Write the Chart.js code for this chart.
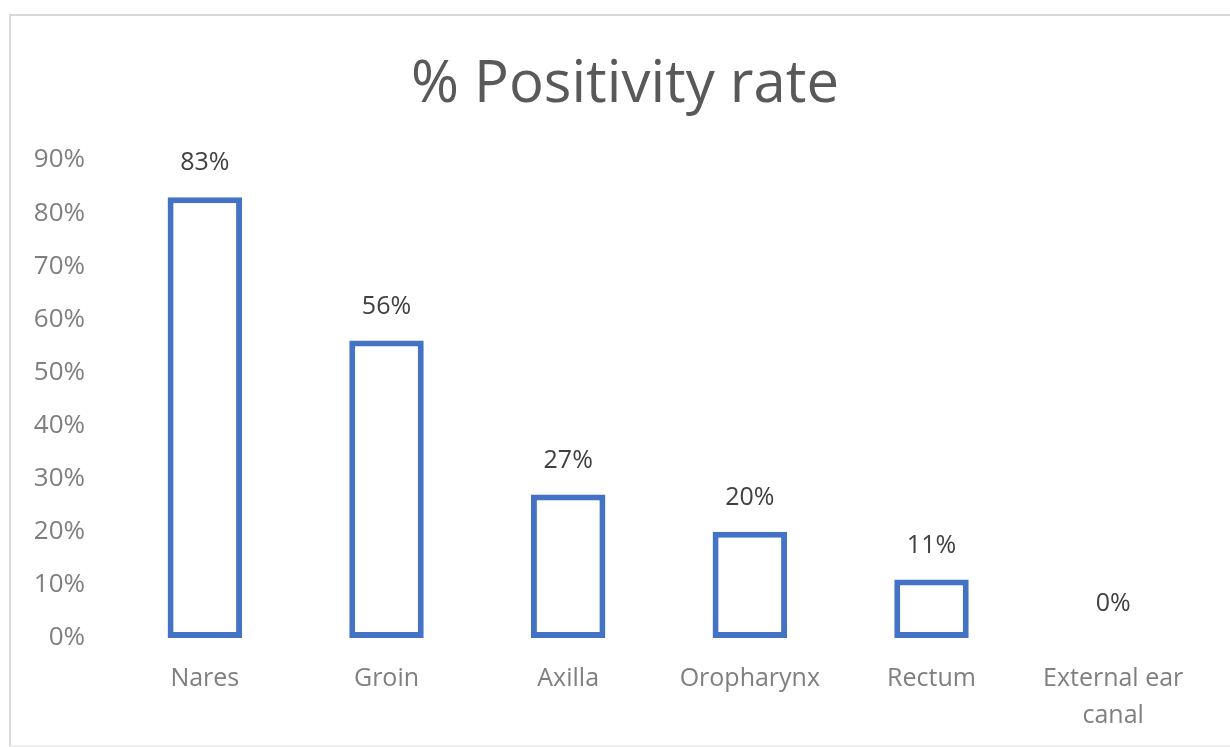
<!DOCTYPE html>
<html>
<head>
<meta charset="utf-8">
<script src="https://cdn.jsdelivr.net/npm/chart.js@4.4.1/dist/chart.umd.min.js"></script>
<style>
  body { margin: 0; background: #fff; }
  #wrap { position: relative; width: 1230px; height: 747px; overflow: hidden; }
  #frame { position: absolute; left: 9px; top: 14px; width: 1240px; height: 729px;
           border-left: 2px solid #d9d9d9; border-top: 2px solid #d9d9d9; border-bottom: 2px solid #f0f0f0; }
  #chart { position: absolute; left: 0; top: 0; }
</style>
</head>
<body>
<div id="wrap">
  <div id="frame"></div>
  <canvas id="chart" width="1230" height="747"></canvas>
</div>
<script>
// values
const chartTitle = '% Positivity rate';
const sites = ['Nares', 'Groin', 'Axilla', 'Oropharynx', 'Rectum', ['External ear', 'canal']];
const positivity = [83, 56, 27, 20, 11, 0];
const yTicks = [0, 10, 20, 30, 40, 50, 60, 70, 80, 90];

const FONT = '"Open Sans", "Noto Sans", sans-serif';

// title centred on the whole frame, not the plot area
const frameTitle = {
  id: 'frameTitle',
  afterDraw(chart) {
    const ctx = chart.ctx;
    ctx.save();
    ctx.font = '58px ' + FONT;
    ctx.fillStyle = '#595959';
    ctx.textAlign = 'center';
    ctx.textBaseline = 'alphabetic';
    ctx.fillText(chartTitle, 625, 102);
    ctx.restore();
  }
};

// simple value labels above each bar
const barLabels = {
  id: 'barLabels',
  afterDatasetsDraw(chart) {
    const ctx = chart.ctx;
    const meta = chart.getDatasetMeta(0);
    ctx.save();
    ctx.font = '25px ' + FONT;
    ctx.fillStyle = '#404040';
    ctx.textAlign = 'center';
    ctx.textBaseline = 'middle';
    meta.data.forEach((bar, i) => {
      ctx.fillText(positivity[i] + '%', bar.x, bar.y - 34);
    });
    ctx.restore();
  }
};

new Chart(document.getElementById('chart'), {
  type: 'bar',
  data: {
    labels: sites,
    datasets: [{
      data: positivity,
      backgroundColor: '#ffffff',
      borderColor: '#4472C4',
      borderWidth: 6,
      borderSkipped: false,
      categoryPercentage: 1,
      barPercentage: 0.41
    }]
  },
  options: {
    responsive: false,
    animation: false,
    layout: { padding: { left: 10, right: 26, top: 160, bottom: 0 } },
    plugins: {
      legend: { display: false },
      tooltip: { enabled: false },
      title: { display: false }
    },
    scales: {
      x: {
        grid: { display: false },
        border: { display: false },
        ticks: {
          color: '#7f7f7f',
          font: { family: FONT, size: 25, lineHeight: 1.45 },
          padding: 15,
          maxRotation: 0,
          autoSkip: false
        },
        afterFit(scale) { scale.height = 109; }
      },
      y: {
        min: 0,
        max: 90,
        grid: { display: false },
        border: { display: false },
        afterBuildTicks(scale) { scale.ticks = yTicks.map(v => ({ value: v })); },
        ticks: {
          color: '#7f7f7f',
          font: { family: FONT, size: 26 },
          padding: 21,
          callback: v => v + '%'
        },
        afterFit(scale) { scale.width = 104; }
      }
    }
  },
  plugins: [barLabels, frameTitle]
});
</script>
</body>
</html>
